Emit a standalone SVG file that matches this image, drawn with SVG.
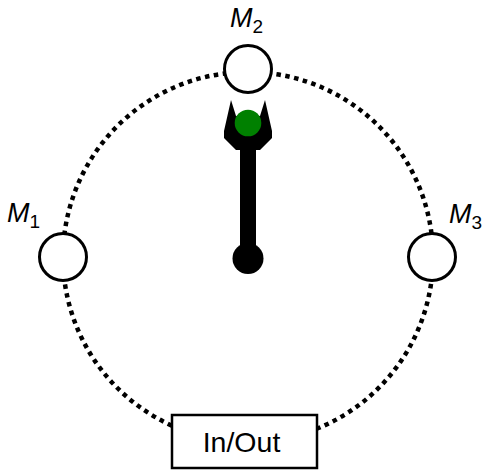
<svg xmlns="http://www.w3.org/2000/svg" width="487" height="471" viewBox="0 0 487 471">
<style>
.node{fill:#fff;stroke:#000;stroke-width:3}
.lbl{font-family:"Liberation Sans",Arial,sans-serif;font-style:italic;font-size:27px;fill:#000}
.sub{font-style:normal;font-size:19px}
.box{font-family:"Liberation Sans",Arial,sans-serif;font-size:28.5px;fill:#000}
</style>
<rect width="487" height="471" fill="#fff"/>
<g id="connectors">
<circle cx="248" cy="257" r="185" fill="none" stroke="#000" stroke-width="4.5" stroke-dasharray="4.5 4.5"/>
</g>
<g id="M1">
<circle class="node" cx="63" cy="257" r="23.5"/>
<text class="lbl" x="7" y="222">M<tspan class="sub" dy="6">1</tspan></text>
</g>
<g id="M2">
<circle class="node" cx="248" cy="69" r="23.5"/>
<text class="lbl" x="230" y="27">M<tspan class="sub" dy="6">2</tspan></text>
</g>
<g id="M3">
<circle class="node" cx="432" cy="257" r="23.5"/>
<text class="lbl" x="449" y="223">M<tspan class="sub" dy="6">3</tspan></text>
</g>
<g id="InOut">
<rect x="172" y="415" width="145" height="53" fill="#fff" stroke="#000" stroke-width="2.5"/>
<text class="box" x="241.5" y="452" text-anchor="middle">In/Out</text>
</g>
<g id="robot">
<rect x="240" y="140" width="16" height="118" fill="#000"/>
<circle cx="248" cy="258.5" r="15.5" fill="#000"/>
<polygon points="231,100 236,116 260,116 265,100 272,131 272,138 260,150 236,150 224,138 224,131" fill="#000"/>
<circle cx="248" cy="123" r="13.3" fill="#008000"/>
</g>
</svg>
